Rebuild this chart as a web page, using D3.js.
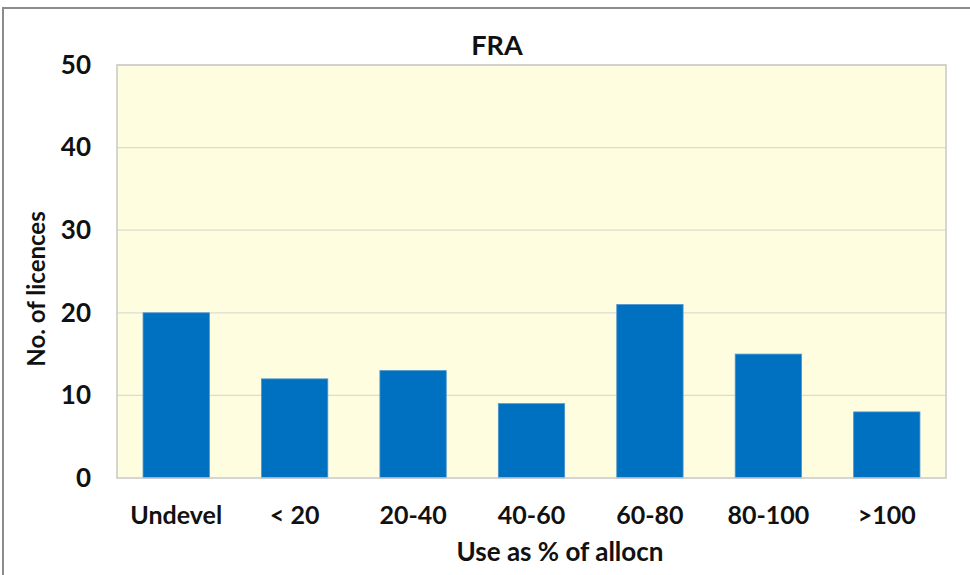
<!DOCTYPE html>
<html>
<head>
<meta charset="utf-8">
<script src="https://cdn.jsdelivr.net/npm/d3@7"></script>
<style>
  body { margin: 0; background: #fff; }
  svg { display: block; }
  text { font-family: Lato, "Open Sans", sans-serif; font-weight: bold; fill: #111; }
</style>
</head>
<body>
<div id="chart"></div>
<script>
const categories = ["Undevel", "< 20", "20-40", "40-60", "60-80", "80-100", ">100"];
const licences = [20, 12, 13, 9, 21, 15, 8];
const yTicks = [0, 10, 20, 30, 40, 50];
const title = "FRA";
const xTitle = "Use as % of allocn";
const yTitle = "No. of licences";

const width = 970, height = 575;
const margin = {top: 65, right: 24, bottom: 97, left: 117};
const plotW = width - margin.left - margin.right;
const plotH = height - margin.top - margin.bottom;

const svg = d3.select("#chart").append("svg")
    .attr("width", width)
    .attr("height", height);

// outer chart frame (only top/left edges fall inside the picture)
svg.append("rect")
    .attr("x", 3).attr("y", 8)
    .attr("width", width + 10).attr("height", height + 10)
    .attr("fill", "#fff")
    .attr("stroke", "#8c8c8c")
    .attr("stroke-width", 2);

const g = svg.append("g")
    .attr("transform", `translate(${margin.left},${margin.top})`);

const x = d3.scaleBand()
    .domain(categories)
    .range([0, plotW])
    .paddingInner(0.44)
    .paddingOuter(0.22);

const y = d3.scaleLinear()
    .domain([0, 50])
    .range([plotH, 0]);

g.append("rect")
    .attr("width", plotW)
    .attr("height", plotH)
    .attr("fill", "#fefde0");

// gridlines
g.append("g")
  .selectAll("line")
  .data(yTicks.filter(d => d > 0))
  .enter().append("line")
    .attr("x1", 0).attr("x2", plotW)
    .attr("y1", d => y(d)).attr("y2", d => y(d))
    .attr("stroke", "#dcdcd4")
    .attr("stroke-width", 1.2);

// bars
g.append("g")
  .selectAll("rect")
  .data(licences)
  .enter().append("rect")
    .attr("x", (d, i) => x(categories[i]))
    .attr("y", d => y(d))
    .attr("width", x.bandwidth())
    .attr("height", d => plotH - y(d))
    .attr("fill", "#0070c0")
    .attr("stroke", "#4a94d0")
    .attr("stroke-width", 0.8);

// plot border
g.append("rect")
    .attr("width", plotW)
    .attr("height", plotH)
    .attr("fill", "none")
    .attr("stroke", "#c8c8c8")
    .attr("stroke-width", 1.5);

// y axis labels
const yAxis = g.append("g")
    .call(d3.axisLeft(y).tickValues(yTicks).tickSize(0).tickPadding(26));
yAxis.select(".domain").remove();
yAxis.selectAll("text")
    .style("font-size", "26px")
    .attr("font-family", null);

// x axis labels
const xAxis = g.append("g")
    .attr("transform", `translate(0,${plotH})`)
    .call(d3.axisBottom(x).tickSize(0).tickPadding(28));
xAxis.select(".domain").remove();
xAxis.selectAll("text")
    .style("font-size", "25px")
    .attr("font-family", null);

svg.append("text")
    .attr("x", 497).attr("y", 55)
    .attr("text-anchor", "middle")
    .style("font-size", "27px")
    .text(title);

svg.append("text")
    .attr("x", 560).attr("y", 561)
    .attr("text-anchor", "middle")
    .style("font-size", "26px")
    .text(xTitle);

svg.append("text")
    .attr("transform", `translate(45,289) rotate(-90)`)
    .attr("text-anchor", "middle")
    .style("font-size", "24px")
    .text(yTitle);
</script>
</body>
</html>
